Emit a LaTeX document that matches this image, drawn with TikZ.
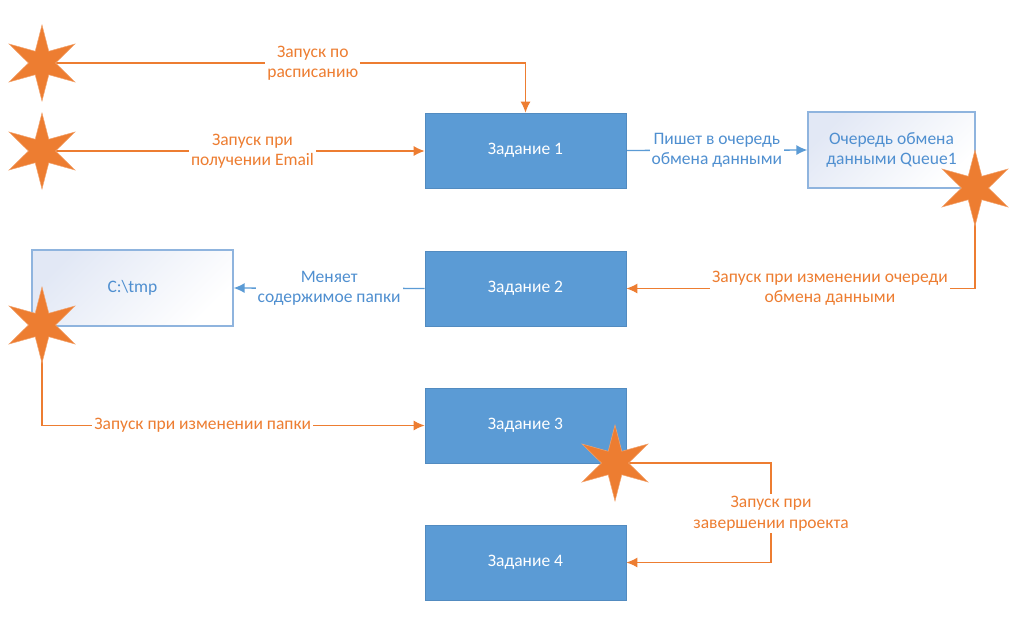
\documentclass[tikz,border=0pt]{standalone}
\usepackage{fontspec}
\setmainfont{Carlito}
\usetikzlibrary{shapes.geometric,arrows.meta,backgrounds}
\definecolor{taskblue}{HTML}{5B9BD5}
\definecolor{edgeblue}{HTML}{8FB4DE}
\definecolor{lavender}{HTML}{E2E8F5}
\definecolor{fireorange}{HTML}{ED7D31}
\definecolor{textblue}{HTML}{4F8FD0}
\tikzset{
  txt/.style={font=\fontsize{17.5}{20.5}\selectfont},
  task/.style={rectangle, fill=taskblue, draw=taskblue!90!black, line width=0.6pt,
    minimum width=201pt, minimum height=75pt, text=white, txt},
  store/.style={rectangle, draw=edgeblue, line width=1.2pt, left color=lavender, right color=white,
    shading angle=45, minimum width=201pt, minimum height=76pt, text=textblue, align=center, txt},
  trigger/.style={star, star points=6, star point ratio=2.8, minimum size=76pt, inner sep=0pt,
    fill=fireorange, draw=fireorange!70!white, line width=0.5pt},
  oline/.style={draw=fireorange, line width=1.4pt, -{Latex[length=11pt,width=10pt]}},
  bline/.style={draw=taskblue, line width=1.4pt, -{Latex[length=11pt,width=10pt]}},
  olabel/.style={fill=white, text=fireorange, align=center, inner sep=2pt, txt},
  blabel/.style={fill=white, text=textblue, align=center, inner sep=2pt, txt},
}
\begin{document}
\begin{tikzpicture}[x=1pt, y=-1pt]
\useasboundingbox (0,0) rectangle (1025,634);

% tasks
\node[task] (b1) at (525.5,150.5) {Задание 1};
\node[task] (b2) at (525.5,288.5) {Задание 2};
\node[task] (b3) at (525.5,425.5) {Задание 3};
\node[task] (b4) at (525.5,562.5) {Задание 4};

% queue and folder
\node[store, minimum width=167pt] (q) at (891.5,150) {Очередь обмена\\данными Queue1};
\node[store] (tmp) at (132.5,288) {C:\textbackslash tmp};

% triggers
\node[trigger] (s1) at (42,63) {};
\node[trigger] (s2) at (42,151) {};
\node[trigger] (s3) at (975,188) {};
\node[trigger] (s4) at (42,325) {};
\node[trigger] (s5) at (615,463) {};
\coordinate (turn) at (771,463);

% connectors behind the stars
\begin{scope}[on background layer]
\draw[oline] (s1.center) -| node[olabel, pos=0.28] {Запуск по\\расписанию} (b1.north);
\draw[oline] (s2.center) -- node[olabel, pos=0.55] {Запуск при\\получении Email} (s2.center -| b1.west);
\draw[bline] (b1.east) -- node[blabel] {Пишет в очередь\\обмена данными} (q.west);
\draw[oline] (s3.center) |- node[olabel, pos=0.708] {Запуск при изменении очереди\\обмена данными} (b2.east);
\draw[bline] (b2.west) -- node[blabel] {Меняет\\содержимое папки} (tmp.east);
\draw[oline] (s4.center) |- node[olabel, pos=0.71] {Запуск при изменении папки} (b3.west);
\draw[oline] (s5.center) -- (turn) |- node[olabel, pos=0.255] {Запуск при\\завершении проекта} (b4.east);
\end{scope}
\end{tikzpicture}
\end{document}
